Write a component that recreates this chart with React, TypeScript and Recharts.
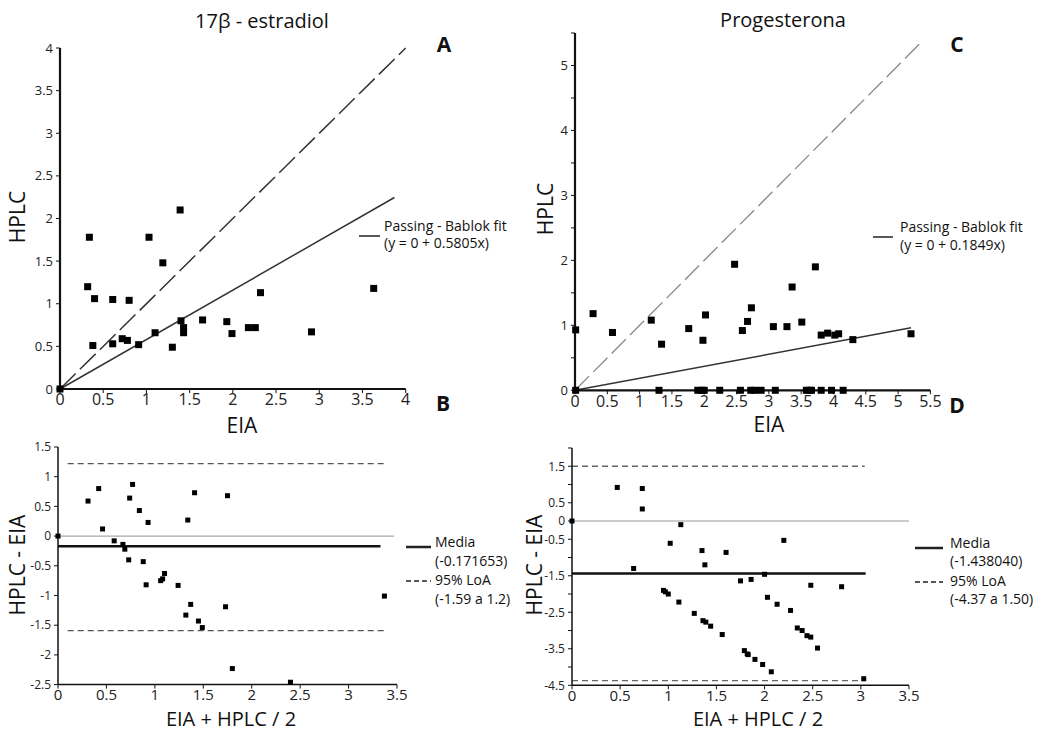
import React from 'react';
import { ScatterChart, Scatter, XAxis, YAxis, ReferenceLine } from 'recharts';

// 17β-estradiol: EIA vs HPLC
const estradiolEIA = [0, 0.32, 0.34, 0.38, 0.4, 0.61, 0.61, 0.72, 0.78, 0.8, 0.91, 1.03, 1.1, 1.19, 1.3, 1.39, 1.4, 1.43, 1.43, 1.65, 1.93, 1.99, 2.18, 2.26, 2.32, 2.91, 3.63];
const estradiolHPLC = [0, 1.2, 1.78, 0.51, 1.06, 0.53, 1.05, 0.59, 0.57, 1.04, 0.52, 1.78, 0.66, 1.48, 0.49, 2.1, 0.8, 0.72, 0.66, 0.81, 0.79, 0.65, 0.72, 0.72, 1.13, 0.67, 1.18];

// 17β-estradiol Bland-Altman: mean vs difference
const estradiolMean = [0, 0.31, 0.42, 0.46, 0.58, 0.67, 0.69, 0.73, 0.74, 0.77, 0.84, 0.88, 0.91, 0.93, 1.06, 1.08, 1.1, 1.24, 1.32, 1.34, 1.37, 1.41, 1.45, 1.49, 1.73, 1.75, 1.8, 2.4, 3.37];
const estradiolDiff = [0, 0.59, 0.8, 0.12, -0.08, -0.14, -0.22, -0.4, 0.64, 0.87, 0.43, -0.43, -0.82, 0.23, -0.75, -0.72, -0.63, -0.83, -1.33, 0.27, -1.15, 0.73, -1.43, -1.54, -1.19, 0.68, -2.23, -2.46, -1.01];

// Progesterona: EIA vs HPLC
const progEIA = [0.01, 0.28, 0.58, 1.18, 1.34, 1.76, 1.98, 2.02, 2.47, 2.59, 2.67, 2.73, 3.07, 3.28, 3.36, 3.51, 3.72, 3.81, 3.91, 4.02, 4.08, 4.3, 5.2, 0.01, 1.3, 1.9, 1.96, 2.0, 2.24, 2.56, 2.72, 2.78, 2.88, 3.1, 3.58, 3.63, 3.66, 3.81, 3.97, 4.15];
const progHPLC = [0.93, 1.18, 0.89, 1.08, 0.71, 0.95, 0.77, 1.16, 1.94, 0.92, 1.06, 1.27, 0.98, 0.98, 1.59, 1.05, 1.9, 0.85, 0.88, 0.85, 0.87, 0.78, 0.87, 0, 0, 0, 0, 0, 0, 0, 0, 0, 0, 0, 0, 0, 0, 0, 0, 0];

// Progesterona Bland-Altman
const progMean = [0, 0.47, 0.73, 0.73, 0.64, 1.13, 1.02, 0.95, 0.97, 1.0, 1.11, 1.27, 1.35, 1.38, 1.36, 1.39, 1.44, 1.56, 1.6, 1.75, 1.79, 1.82, 1.83, 1.86, 1.9, 1.98, 2.0, 2.03, 2.07, 2.13, 2.2, 2.27, 2.34, 2.39, 2.44, 2.48, 2.48, 2.55, 2.8, 3.03];
const progDiff = [0, 0.92, 0.89, 0.33, -1.3, -0.1, -0.61, -1.9, -1.94, -2.0, -2.22, -2.53, -0.81, -1.2, -2.73, -2.77, -2.88, -3.11, -0.86, -1.64, -3.55, -3.64, -3.66, -1.6, -3.79, -3.93, -1.46, -2.09, -4.13, -2.28, -0.53, -2.45, -2.93, -3.0, -3.14, -3.18, -1.76, -3.48, -1.8, -4.32];

// statistics from the figure
const estradiolSlope = 0.5805;
const progSlope = 0.1849;
const estradiolBias = -0.171653;
const estradiolLoA = [-1.59, 1.22];
const progBias = -1.43804;
const progLoA = [-4.37, 1.5];

const ticksA = [0, 0.5, 1, 1.5, 2, 2.5, 3, 3.5, 4];
const ticksCx = [0, 0.5, 1, 1.5, 2, 2.5, 3, 3.5, 4, 4.5, 5, 5.5];
const ticksCy = [0, 0.5, 1, 1.5, 2, 2.5, 3, 3.5, 4, 4.5, 5, 5.5];
const ticksBx = [0, 0.5, 1, 1.5, 2, 2.5, 3, 3.5];
const ticksBy = [-2.5, -2, -1.5, -1, -0.5, 0, 0.5, 1, 1.5];
const ticksDy = [-4.5, -4, -3.5, -3, -2.5, -2, -1.5, -1, -0.5, 0, 0.5, 1, 1.5, 2];
const labelsDy = [-4.5, -3.5, -2.5, -1.5, -0.5, 0, 0.5, 1.5];

const zip = (xs: number[], ys: number[]) => xs.map((x, i) => ({ x, y: ys[i] }));

const FONT = "'Open Sans', sans-serif";

type Seg = { a: [number, number]; b: [number, number]; stroke: string; w: number; dash?: string };

const square = (s: number) => (p: any) => (
  <rect x={p.cx - s / 2} y={p.cy - s / 2} width={s} height={s} fill="#000" />
);

interface PanelProps {
  box: { l: number; t: number; r: number; b: number };
  xDomain: [number, number];
  yDomain: [number, number];
  xTicks: number[];
  yTicks: number[];
  yFmt?: (v: number) => string;
  data: { x: number; y: number }[];
  size: number;
  segs: Seg[];
  axisW: number;
  xFont: number;
  yFont: number;
}

const Panel: React.FC<PanelProps> = ({ box, xDomain, yDomain, xTicks, yTicks, yFmt, data, size, segs, axisW, xFont, yFont }) => {
  const w = box.r - box.l + 80;
  const h = box.b - box.t + 60;
  return (
    <div style={{ position: 'absolute', left: box.l - 60, top: box.t - 20 }}>
      <ScatterChart width={w} height={h} margin={{ top: 20, right: 20, bottom: 0, left: 0 }}>
        <XAxis
          type="number"
          dataKey="x"
          domain={xDomain}
          ticks={xTicks}
          interval={0}
          height={40}
          tickSize={4}
          tickMargin={1}
          axisLine={{ stroke: '#111', strokeWidth: axisW }}
          tickLine={{ stroke: '#111' }}
          tick={{ fontSize: xFont, fill: '#222', fontFamily: FONT }}
        />
        <YAxis
          type="number"
          dataKey="y"
          domain={yDomain}
          ticks={yTicks}
          interval={0}
          width={60}
          tickSize={4}
          tickMargin={3}
          tickFormatter={yFmt}
          axisLine={{ stroke: '#111', strokeWidth: axisW }}
          tickLine={{ stroke: '#111' }}
          tick={{ fontSize: yFont, fill: '#222', fontFamily: FONT }}
        />
        {segs.map((s, i) => (
          <ReferenceLine
            key={i}
            segment={[{ x: s.a[0], y: s.a[1] }, { x: s.b[0], y: s.b[1] }]}
            stroke={s.stroke}
            strokeWidth={s.w}
            strokeDasharray={s.dash}
            ifOverflow="visible"
          />
        ))}
        <Scatter data={data} shape={square(size)} isAnimationActive={false} />
      </ScatterChart>
    </div>
  );
};

const LegendLine = ({ x1, x2, y, w, dash }: { x1: number; x2: number; y: number; w: number; dash?: string }) => (
  <line x1={x1} x2={x2} y1={y} y2={y} stroke="#222" strokeWidth={w} strokeDasharray={dash} />
);

const App: React.FC = () => {
  const segA: Seg[] = [
    { a: [0, 0], b: [4, 4], stroke: '#333', w: 1.5, dash: '22 6' },
    { a: [0, 0], b: [3.87, 3.87 * estradiolSlope], stroke: '#333', w: 1.5 },
  ];
  const segC: Seg[] = [
    { a: [0, 0], b: [5.38, 5.38], stroke: '#888', w: 1.3, dash: '20 6' },
    { a: [0, 0], b: [5.2, 5.2 * progSlope], stroke: '#333', w: 1.5 },
  ];
  const segB: Seg[] = [
    { a: [0, 0], b: [3.47, 0], stroke: '#aaa', w: 1.2 },
    { a: [0, estradiolBias], b: [3.33, estradiolBias], stroke: '#111', w: 2.5 },
    { a: [0.1, estradiolLoA[0]], b: [3.37, estradiolLoA[0]], stroke: '#555', w: 1.3, dash: '6 4' },
    { a: [0.1, estradiolLoA[1]], b: [3.37, estradiolLoA[1]], stroke: '#555', w: 1.3, dash: '6 4' },
  ];
  const segD: Seg[] = [
    { a: [0, 0], b: [3.5, 0], stroke: '#999', w: 1.2 },
    { a: [0, progBias], b: [3.05, progBias], stroke: '#111', w: 2.5 },
    { a: [0, progLoA[0]], b: [3.04, progLoA[0]], stroke: '#666', w: 1.3, dash: '6 4' },
    { a: [0, progLoA[1]], b: [3.04, progLoA[1]], stroke: '#666', w: 1.3, dash: '6 4' },
  ];

  const txt = { fontFamily: FONT, fill: '#111' };

  return (
    <div style={{ position: 'absolute', left: 0, top: 0, width: 1044, height: 732, background: '#fff', fontFamily: FONT }}>
      <Panel
        box={{ l: 60.3, t: 48, r: 406, b: 389 }}
        xDomain={[0, 4]}
        yDomain={[0, 4]}
        xTicks={ticksA}
        yTicks={ticksA}
        data={zip(estradiolEIA, estradiolHPLC)}
        size={7}
        segs={segA}
        axisW={2.2}
        xFont={16}
        yFont={13}
      />
      <Panel
        box={{ l: 57.7, t: 446.7, r: 396.7, b: 684.3 }}
        xDomain={[0, 3.5]}
        yDomain={[-2.5, 1.5]}
        xTicks={ticksBx}
        yTicks={ticksBy}
        data={zip(estradiolMean, estradiolDiff)}
        size={5}
        segs={segB}
        axisW={1.5}
        xFont={15}
        yFont={12}
      />
      <Panel
        box={{ l: 575.3, t: 32.7, r: 930.7, b: 390 }}
        xDomain={[0, 5.5]}
        yDomain={[0, 5.5]}
        xTicks={ticksCx}
        yTicks={ticksCy}
        yFmt={(v: number) => (Number.isInteger(v) ? String(v) : '')}
        data={zip(progEIA, progHPLC)}
        size={7}
        segs={segC}
        axisW={2.2}
        xFont={16}
        yFont={13}
      />
      <Panel
        box={{ l: 572.3, t: 447.7, r: 909.3, b: 685 }}
        xDomain={[0, 3.5]}
        yDomain={[-4.5, 2]}
        xTicks={ticksBx}
        yTicks={ticksDy}
        yFmt={(v: number) => (labelsDy.includes(v) ? String(v) : '')}
        data={zip(progMean, progDiff)}
        size={5}
        segs={segD}
        axisW={1.5}
        xFont={15}
        yFont={12}
      />

      <svg width={1044} height={732} style={{ position: 'absolute', left: 0, top: 0, pointerEvents: 'none' }}>
        <text x={262} y={28} fontSize={20} textAnchor="middle" {...txt}>17β - estradiol</text>
        <text x={783} y={27} fontSize={20} textAnchor="middle" {...txt}>Progesterona</text>

        <text x={444} y={52} fontSize={21} fontWeight="bold" textAnchor="middle" {...txt}>A</text>
        <text x={443} y={411} fontSize={21} fontWeight="bold" textAnchor="middle" {...txt}>B</text>
        <text x={957} y={52} fontSize={21} fontWeight="bold" textAnchor="middle" {...txt}>C</text>
        <text x={957} y={413} fontSize={21} fontWeight="bold" textAnchor="middle" {...txt}>D</text>

        <text transform="translate(25,217) rotate(-90)" fontSize={21} textAnchor="middle" {...txt}>HPLC</text>
        <text transform="translate(553,209) rotate(-90)" fontSize={21} textAnchor="middle" {...txt}>HPLC</text>
        <text x={242} y={433} fontSize={21} textAnchor="middle" {...txt}>EIA</text>
        <text x={769} y={432} fontSize={21} textAnchor="middle" {...txt}>EIA</text>
        <text transform="translate(25,565) rotate(-90)" fontSize={21} textAnchor="middle" {...txt}>HPLC - EIA</text>
        <text transform="translate(542,565) rotate(-90)" fontSize={21} textAnchor="middle" {...txt}>HPLC - EIA</text>
        <text x={231} y={726} fontSize={20} textAnchor="middle" {...txt}>EIA + HPLC / 2</text>
        <text x={758} y={726} fontSize={20} textAnchor="middle" {...txt}>EIA + HPLC / 2</text>

        <LegendLine x1={359} x2={380} y={236} w={1.5} />
        <text x={384} y={230.5} fontSize={14} {...txt}>Passing - Bablok fit</text>
        <text x={384} y={248} fontSize={14} {...txt}>(y = 0 + {estradiolSlope}x)</text>

        <LegendLine x1={873} x2={893} y={237} w={1.5} />
        <text x={900} y={232} fontSize={14} {...txt}>Passing - Bablok fit</text>
        <text x={900} y={250} fontSize={14} {...txt}>(y = 0 + {progSlope}x)</text>

        <LegendLine x1={406} x2={431} y={547} w={2.5} />
        <text x={435} y={547} fontSize={14} {...txt}>Media</text>
        <text x={435} y={566} fontSize={14} {...txt}>(-0.171653)</text>
        <LegendLine x1={406} x2={431} y={581} w={1.3} dash="5 3" />
        <text x={435} y={585} fontSize={14} {...txt}>95% LoA</text>
        <text x={435} y={604} fontSize={14} {...txt}>(-1.59 a 1.2)</text>

        <LegendLine x1={915} x2={943} y={548} w={2.5} />
        <text x={950} y={548} fontSize={14} {...txt}>Media</text>
        <text x={950} y={566} fontSize={14} {...txt}>(-1.438040)</text>
        <LegendLine x1={915} x2={943} y={582} w={1.3} dash="5 3" />
        <text x={950} y={586} fontSize={14} {...txt}>95% LoA</text>
        <text x={950} y={604} fontSize={14} {...txt}>(-4.37 a 1.50)</text>
      </svg>
    </div>
  );
};

export default App;
